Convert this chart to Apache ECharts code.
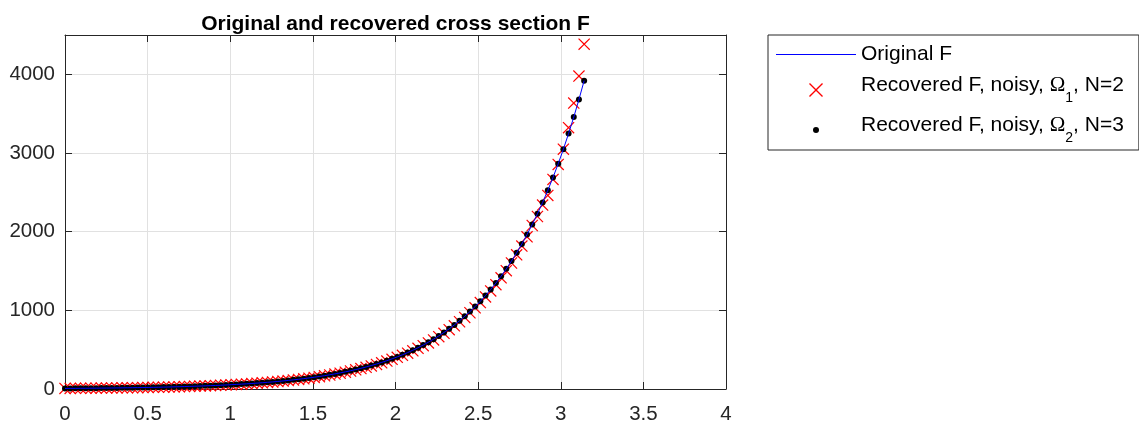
<!DOCTYPE html>
<html>
<head>
<meta charset="utf-8">
<script src="https://cdn.jsdelivr.net/npm/echarts@6/dist/echarts.min.js"></script>
<style>
  html, body { margin: 0; padding: 0; background: #fff; }
  #chart { width: 1139px; height: 426px; }
</style>
</head>
<body>
<div id="chart"></div>
<script>
// sample positions (0 .. pi)
var xs = [
  0, 0.0314, 0.0628, 0.0942, 0.1257, 0.1571, 0.1885, 0.2199, 0.2513, 0.2827,
  0.3142, 0.3456, 0.3770, 0.4084, 0.4398, 0.4712, 0.5027, 0.5341, 0.5655, 0.5969,
  0.6283, 0.6597, 0.6912, 0.7226, 0.7540, 0.7854, 0.8168, 0.8482, 0.8796, 0.9111,
  0.9425, 0.9739, 1.0053, 1.0367, 1.0681, 1.0996, 1.1310, 1.1624, 1.1938, 1.2252,
  1.2566, 1.2881, 1.3195, 1.3509, 1.3823, 1.4137, 1.4451, 1.4765, 1.5080, 1.5394,
  1.5708, 1.6022, 1.6336, 1.6650, 1.6965, 1.7279, 1.7593, 1.7907, 1.8221, 1.8535,
  1.8850, 1.9164, 1.9478, 1.9792, 2.0106, 2.0420, 2.0735, 2.1049, 2.1363, 2.1677,
  2.1991, 2.2305, 2.2619, 2.2934, 2.3248, 2.3562, 2.3876, 2.4190, 2.4504, 2.4819,
  2.5133, 2.5447, 2.5761, 2.6075, 2.6389, 2.6704, 2.7018, 2.7332, 2.7646, 2.7960,
  2.8274, 2.8588, 2.8903, 2.9217, 2.9531, 2.9845, 3.0159, 3.0473, 3.0788, 3.1102,
  3.1416
];

// original F
var originalF = [
  7.32, 7.79, 8.30, 8.84, 9.41, 10.02, 10.67, 11.36, 12.10, 12.89,
  13.72, 14.61, 15.56, 16.57, 17.64, 18.79, 20.00, 21.30, 22.68, 24.15,
  25.72, 27.39, 29.16, 31.05, 33.07, 35.21, 37.50, 39.93, 42.52, 45.27,
  48.21, 51.34, 54.67, 58.21, 61.99, 66.01, 70.29, 74.84, 79.70, 84.86,
  90.37, 96.23, 102.47, 109.11, 116.19, 123.72, 131.75, 140.29, 149.39, 159.07,
  169.4, 180.4, 192.1, 204.5, 217.8, 231.9, 247.0, 263.0, 280.0, 298.2,
  317.5, 338.1, 360.0, 383.4, 408.2, 434.7, 462.9, 492.9, 524.9, 558.9,
  595.2, 633.8, 674.9, 718.6, 765.2, 814.9, 867.7, 924.0, 983.9, 1047.7,
  1115.6, 1188.0, 1266.0, 1347.0, 1434.4, 1527.4, 1626.4, 1731.9, 1844.2, 1963.8,
  2091.2, 2226.8, 2371.2, 2524.9, 2688.7, 2863.0, 3048.7, 3246.4, 3456.9, 3681.1,
  3919.8
];

// recovered, Omega_2, N=3 (sits on the original curve)
var recoveredN3 = [
  7.32, 7.79, 8.30, 8.84, 9.41, 10.02, 10.67, 11.36, 12.10, 12.89,
  13.72, 14.61, 15.56, 16.57, 17.64, 18.79, 20.00, 21.30, 22.68, 24.15,
  25.72, 27.39, 29.16, 31.05, 33.07, 35.21, 37.50, 39.93, 42.52, 45.27,
  48.21, 51.34, 54.67, 58.21, 61.99, 66.01, 70.29, 74.84, 79.70, 84.86,
  90.37, 96.23, 102.47, 109.11, 116.19, 123.72, 131.75, 140.29, 149.39, 159.07,
  169.4, 180.4, 192.1, 204.5, 217.8, 231.9, 247.0, 263.0, 280.0, 298.2,
  317.5, 338.1, 360.0, 383.4, 408.2, 434.7, 462.9, 492.9, 524.9, 558.9,
  595.2, 633.8, 674.9, 718.6, 765.2, 814.9, 867.7, 924.0, 983.9, 1047.7,
  1115.6, 1188.0, 1266.0, 1347.0, 1434.4, 1527.4, 1626.4, 1731.9, 1844.2, 1963.8,
  2091.2, 2226.8, 2371.2, 2524.9, 2688.7, 2863.0, 3048.7, 3246.4, 3456.9, 3681.1,
  3919.8
];

// recovered, Omega_1, N=2
var recoveredN2 = [
  7.21, 7.67, 8.18, 8.71, 9.27, 9.87, 10.51, 11.19, 11.92, 12.70,
  13.51, 14.39, 15.33, 16.32, 17.38, 18.51, 19.70, 20.98, 22.34, 23.79,
  25.33, 26.98, 28.72, 30.58, 32.57, 34.68, 36.94, 39.33, 41.88, 44.59,
  47.49, 50.57, 53.85, 57.34, 61.06, 65.02, 69.24, 73.72, 78.50, 83.59,
  89.01, 94.78, 100.93, 107.47, 114.45, 121.86, 129.77, 138.19, 147.15, 156.68,
  166.9, 177.7, 189.2, 201.4, 214.5, 228.4, 243.3, 259.1, 275.8, 293.7,
  312.7, 333.0, 354.6, 377.6, 402.1, 428.2, 456.0, 485.5, 517.0, 550.5,
  586.3, 624.3, 664.8, 707.8, 753.7, 802.7, 854.7, 910.1, 969.1, 1032.0,
  1098.9, 1170.2, 1247.0, 1326.8, 1412.9, 1504.5, 1602.0, 1705.9, 1816.5, 1934.4,
  2078, 2193, 2338, 2461, 2664, 2855, 3049, 3322, 3635, 3978,
  4384
];

var xTicks = [0, 0.5, 1, 1.5, 2, 2.5, 3, 3.5, 4];
var yTicks = [0, 1000, 2000, 3000, 4000];

var seriesNames = [
  'Original F',
  'Recovered F, noisy, Ω1, N=2',
  'Recovered F, noisy, Ω2, N=3'
];

var FONT = '"Liberation Sans", Arial, Helvetica, sans-serif';
var AXIS = '#262626';
var GRID = '#e1e1e1';
var XMARK = 'path://M0,1.4L1.4,0L10,8.6L18.6,0L20,1.4L11.4,10L20,18.6L18.6,20L10,11.4L1.4,20L0,18.6L8.6,10Z';
var LINEICON = 'path://M0,0L80,0L80,1.2L0,1.2Z';
var DOTICON = 'path://M0,0M14,14M10,7A3,3,0,1,1,4,7A3,3,0,1,1,10,7Z';

function pairs(ys) {
  return xs.map(function (x, i) { return [x, ys[i]]; });
}

function xAxisCfg(pos, labels) {
  return {
    type: 'value', position: pos, min: xTicks[0], max: xTicks[xTicks.length - 1], interval: 0.5,
    axisLine: { show: true, onZero: false, lineStyle: { color: AXIS, width: 1 } },
    axisTick: { show: true, inside: true, length: 7, lineStyle: { color: AXIS } },
    axisLabel: {
      show: labels, margin: 15, color: AXIS, fontSize: 20.5, fontFamily: FONT,
      formatter: function (v) { return xTicks.indexOf(v) >= 0 ? String(v) : ''; }
    },
    splitLine: { show: labels, lineStyle: { color: GRID, width: 1 } }
  };
}

function yAxisCfg(pos, labels) {
  return {
    type: 'value', position: pos, min: 0, max: 4500, interval: 1000,
    axisLine: { show: true, onZero: false, lineStyle: { color: AXIS, width: 1 } },
    axisTick: { show: true, inside: true, length: 7, lineStyle: { color: AXIS } },
    axisLabel: {
      show: labels, margin: 10, color: AXIS, fontSize: 20.5, fontFamily: FONT, showMaxLabel: false,
      formatter: function (v) { return yTicks.indexOf(v) >= 0 ? String(v) : ''; }
    },
    splitLine: { show: labels, lineStyle: { color: GRID, width: 1 } }
  };
}

var chart = echarts.init(document.getElementById('chart'), null, { renderer: 'canvas' });
chart.setOption({
  animation: false,
  backgroundColor: '#fff',
  title: {
    text: 'Original and recovered cross section F',
    left: 395.5, top: 14, padding: 0, textAlign: 'center',
    textStyle: { fontFamily: FONT, fontSize: 21, fontWeight: 'bold', color: '#000' }
  },
  grid: { left: 65, right: 413, top: 35, bottom: 37, containLabel: false },
  xAxis: [xAxisCfg('bottom', true), xAxisCfg('top', false)],
  yAxis: [yAxisCfg('left', true), yAxisCfg('right', false)],
  legend: {
    orient: 'vertical', left: 768, top: 35,
    padding: [9, 15, 5, 8],
    itemWidth: 80, itemHeight: 14, itemGap: 10,
    borderColor: AXIS, borderWidth: 1, borderRadius: 0,
    backgroundColor: '#fff',
    selectedMode: false,
    data: [
      { name: seriesNames[0], icon: LINEICON },
      { name: seriesNames[1], icon: XMARK },
      { name: seriesNames[2], icon: DOTICON }
    ],
    formatter: function (name) {
      if (name === seriesNames[0]) return '{o|' + name + '}';
      var sub = name === seriesNames[1] ? '1' : '2';
      var n = name === seriesNames[1] ? '2' : '3';
      return '{a|Recovered F, noisy, }{w|Ω}{s|' + sub + '}{a|, N=' + n + '}';
    },
    textStyle: {
      color: '#000', fontFamily: FONT, fontSize: 21,
      rich: {
        o: { color: '#000', fontFamily: FONT, fontSize: 21, lineHeight: 20 },
        a: { color: '#000', fontFamily: FONT, fontSize: 21, lineHeight: 30, verticalAlign: 'top' },
        w: { color: '#000', fontFamily: '"Liberation Serif", "DejaVu Serif", serif', fontSize: 21, lineHeight: 30, verticalAlign: 'top' },
        s: { color: '#000', fontFamily: FONT, fontSize: 14, lineHeight: 30, verticalAlign: 'bottom' }
      }
    }
  },
  series: [
    {
      name: seriesNames[0], type: 'line', data: pairs(originalF),
      showSymbol: false, symbol: 'none',
      lineStyle: { color: '#0000ff', width: 1 },
      itemStyle: { color: '#0000ff' }
    },
    {
      name: seriesNames[1], type: 'scatter', data: pairs(recoveredN2),
      symbol: XMARK, symbolSize: 12, clip: false,
      itemStyle: { color: '#ff0000', opacity: 1 }
    },
    {
      name: seriesNames[2], type: 'scatter', data: pairs(recoveredN3),
      symbol: 'circle', symbolSize: 6, clip: false,
      itemStyle: { color: '#000000', opacity: 1 }
    }
  ]
});
</script>
</body>
</html>
